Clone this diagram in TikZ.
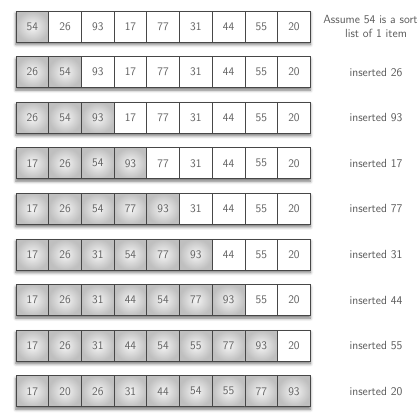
\documentclass[tikz,border=0pt]{standalone}
\usetikzlibrary{shadows.blur}
\tikzset{
  cell/.style={draw=black!72, line width=0.8pt, minimum width=32.7pt, minimum height=31pt,
    inner sep=0pt, text=black!62, font=\fontsize{11.6}{14}\sffamily},
  sorted/.style={cell, shading=radial, inner color=gray!8, outer color=gray!50},
  unsorted/.style={cell, fill=white},
  caption/.style={text=black!65, font=\fontsize{11.8}{14}\sffamily, align=center, inner sep=0pt},
  rowshadow/.style={fill=white, blur shadow={shadow xshift=0pt, shadow yshift=-2.5pt,
    shadow blur radius=3pt, shadow opacity=55}},
}
\begin{document}
\begin{tikzpicture}[x=1pt, y=-1pt]
    \clip (0,0) rectangle (418,416);

    % Rows of the insertion sort
    \foreach \row/\vals/\txt in {
        1/{54,26,93,17,77,31,44,55,20}/{Assume 54 is a sorted\\list of 1 item},
        2/{26,54,93,17,77,31,44,55,20}/{inserted 26},
        3/{26,54,93,17,77,31,44,55,20}/{inserted 93},
        4/{17,26,54,93,77,31,44,55,20}/{inserted 17},
        5/{17,26,54,77,93,31,44,55,20}/{inserted 77},
        6/{17,26,31,54,77,93,44,55,20}/{inserted 31},
        7/{17,26,31,44,54,77,93,55,20}/{inserted 44},
        8/{17,26,31,44,54,55,77,93,20}/{inserted 55},
        9/{17,20,26,31,44,54,55,77,93}/{inserted 20}} {
        \pgfmathsetmacro{\yc}{26.5 + (\row-1)*45.6}
        \fill[rowshadow] (16,\yc-15.5) rectangle (310.3,\yc+15.5);

        % Cells: the first ones are sorted
        \foreach \v [count=\i] in \vals {
            \ifnum\i>\row\relax \def\sty{unsorted}\else \def\sty{sorted}\fi
            \node[\sty] (c-\row-\i) at ({16 + 32.7*(\i-0.5)},\yc) {\v};
        }

        \node[caption] (l-\row) at (376,\yc) {\txt};
    }
\end{tikzpicture}
\end{document}
